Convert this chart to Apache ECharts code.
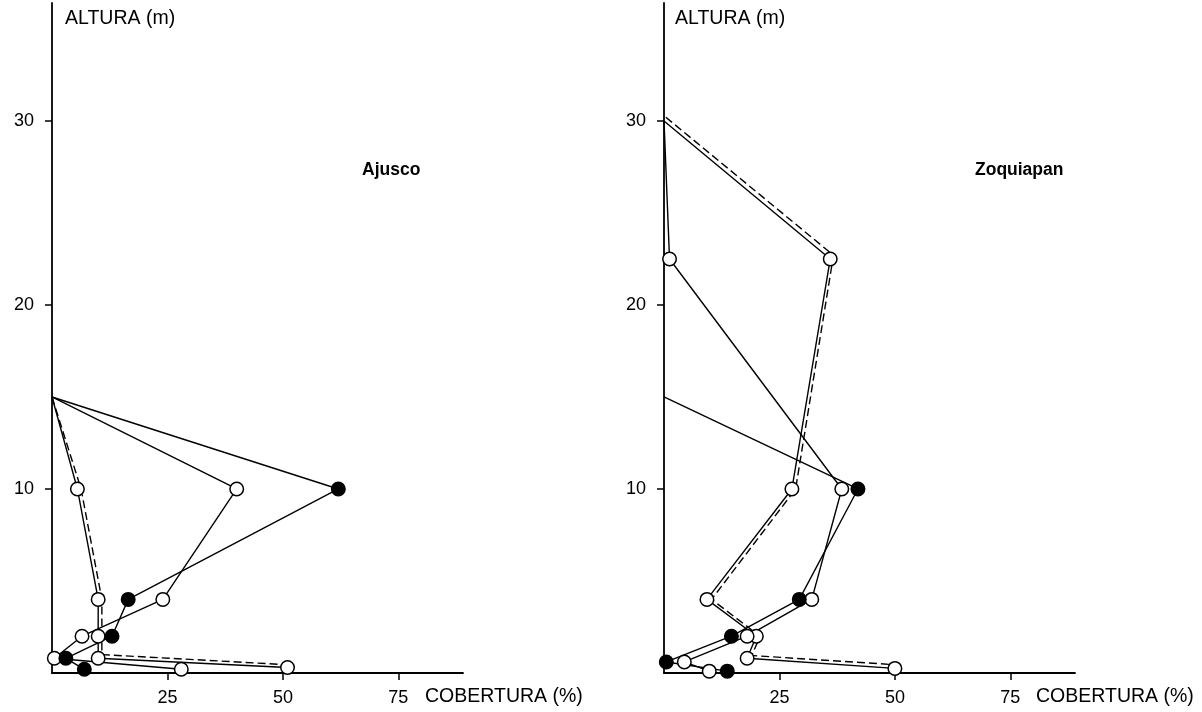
<!DOCTYPE html>
<html>
<head>
<meta charset="utf-8">
<script src="https://cdn.jsdelivr.net/npm/echarts@6/dist/echarts.min.js"></script>
<style>html,body{margin:0;padding:0;background:#fff}#c{width:1202px;height:712px}</style>
</head>
<body>
<div id="c"></div>
<script>
// ---- Data (COBERTURA %, ALTURA m) ----
const xTicks = [25, 50, 75];
const yTicks = [10, 20, 30];

// Ajusco
const ajOpenA_x = [0, 5.5, 10, 10, 10, 51];
const ajOpenA_y = [15, 10, 4, 2, 0.8, 0.3];
const ajDash_x  = [0, 6.3, 10.8, 10.8, 10.8, 51];
const ajDash_y  = [15, 10, 4, 2, 1.0, 0.45];
const ajOpenB_x = [0, 40, 24, 6.5, 0.5, 28];
const ajOpenB_y = [15, 10, 4, 2, 0.8, 0.2];
const ajFill_x  = [0, 62, 16.5, 13, 3, 7];
const ajFill_y  = [15, 10, 4, 2, 0.8, 0.2];

// Zoquiapan
const zqOpenA_x = [0, 36, 27.7, 9.3, 20, 18, 50];
const zqOpenA_y = [30, 22.5, 10, 4, 2, 0.8, 0.25];
const zqDash_x  = [0.4, 36.7, 28.5, 10.3, 20.8, 19, 50];
const zqDash_y  = [30.2, 22.7, 10, 4, 2, 0.95, 0.45];
const zqOpenB_x = [0, 1.2, 38.5, 32, 18, 4.4, 9.8];
const zqOpenB_y = [30, 22.5, 10, 4, 2, 0.6, 0.1];
const zqFill_x  = [0, 42, 29.3, 14.6, 0.5, 13.7];
const zqFill_y  = [15, 10, 4, 2, 0.6, 0.1];

const titles = ['Ajusco', 'Zoquiapan'];
const yName = 'ALTURA (m)';
const xName = 'COBERTURA (%)';

// ---- helpers ----
const zip = (xs, ys) => xs.map((x, i) => [x, ys[i]]);
const FONT = 'Liberation Sans, Arial, Helvetica, sans-serif';

function lineS(idx, xs, ys, dashed) {
  return {
    type: 'line', xAxisIndex: idx, yAxisIndex: idx,
    data: zip(xs, ys), showSymbol: false, symbol: 'none', animation: false,
    lineStyle: { color: '#000', width: 1.4, type: dashed ? [8, 4] : 'solid' },
    z: 2, silent: true
  };
}
function markS(idx, xs, ys, filled) {
  // first point of each profile lies on the axis and has no marker
  return {
    type: 'scatter', xAxisIndex: idx, yAxisIndex: idx,
    data: zip(xs, ys).slice(1), symbol: 'circle', symbolSize: 13.5, animation: false,
    itemStyle: { color: filled ? '#000' : '#fff', borderColor: '#000', borderWidth: 1.5, opacity: 1 },
    z: 5, silent: true
  };
}

const grids = [
  { left: 52, top: 3, width: 411, bottom: 39 },
  { left: 664, top: 3, width: 411, bottom: 39 }
];
function xAx(i) {
  return {
    type: 'value', gridIndex: i, min: 0, max: 89,
    axisLine: { show: true, lineStyle: { color: '#000', width: 1.8 } },
    axisTick: { show: true, customValues: xTicks, length: 7, lineStyle: { color: '#000', width: 1.5 } },
    axisLabel: { customValues: xTicks, color: '#000', fontSize: 18, fontFamily: FONT, margin: 16 },
    splitLine: { show: false }
  };
}
function yAx(i) {
  return {
    type: 'value', gridIndex: i, min: 0, max: 36.41,
    axisLine: { show: true, lineStyle: { color: '#000', width: 1.8 } },
    axisTick: { show: true, customValues: yTicks, length: 7, lineStyle: { color: '#000', width: 1.5 } },
    axisLabel: { customValues: yTicks, color: '#000', fontSize: 18, fontFamily: FONT, margin: 18 },
    splitLine: { show: false }
  };
}

const txt = (x, y, s, bold, size) => ({
  type: 'text', left: x, top: y,
  style: { text: s, fill: '#000', font: (bold ? 'bold ' : '') + size + 'px ' + FONT }
});

const option = {
  backgroundColor: '#fff',
  animation: false,
  grid: grids,
  xAxis: [xAx(0), xAx(1)],
  yAxis: [yAx(0), yAx(1)],
  graphic: [
    txt(65, 9, yName, false, 19.5),
    txt(675, 9, yName, false, 19.5),
    txt(425, 687, xName, false, 19.5),
    txt(1036, 687, xName, false, 19.5),
    txt(362, 161, titles[0], true, 17.5),
    txt(975, 161, titles[1], true, 17.5)
  ],
  series: [
    lineS(0, ajDash_x, ajDash_y, true),
    lineS(0, ajOpenA_x, ajOpenA_y, false),
    lineS(0, ajOpenB_x, ajOpenB_y, false),
    lineS(0, ajFill_x, ajFill_y, false),
    markS(0, ajOpenA_x, ajOpenA_y, false),
    markS(0, ajOpenB_x, ajOpenB_y, false),
    markS(0, ajFill_x, ajFill_y, true),
    lineS(1, zqDash_x, zqDash_y, true),
    lineS(1, zqOpenA_x, zqOpenA_y, false),
    lineS(1, zqOpenB_x, zqOpenB_y, false),
    lineS(1, zqFill_x, zqFill_y, false),
    markS(1, zqOpenA_x, zqOpenA_y, false),
    markS(1, zqOpenB_x, zqOpenB_y, false),
    markS(1, zqFill_x, zqFill_y, true)
  ]
};
const chart = echarts.init(document.getElementById('c'), null, { renderer: 'canvas' });
chart.setOption(option);
</script>
</body>
</html>
